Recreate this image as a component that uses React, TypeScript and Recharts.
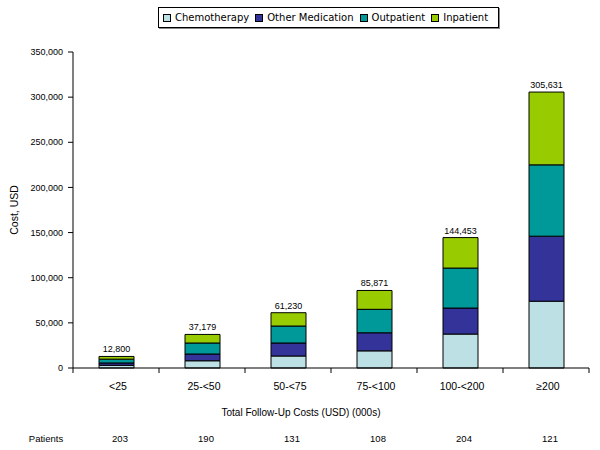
import { BarChart, Bar, XAxis, YAxis, LabelList, Legend, Label } from "recharts";

const categories = ["<25", "25-<50", "50-<75", "75-<100", "100-<200", "≥200"];
const chemotherapy = [3000, 8000, 13300, 19000, 37600, 74000];
const otherMedication = [2600, 7500, 14400, 20000, 28800, 72000];
const outpatient = [4200, 12200, 18800, 26000, 44300, 79000];
const inpatient = [3000, 9479, 14730, 20871, 33753, 80631];
const totals = [12800, 37179, 61230, 85871, 144453, 305631];
const patients = [203, 190, 131, 108, 204, 121];
const yTicks = [0, 50000, 100000, 150000, 200000, 250000, 300000, 350000];

const series = [
  { key: "chemotherapy", name: "Chemotherapy", color: "#BCE0E3" },
  { key: "otherMedication", name: "Other Medication", color: "#333399" },
  { key: "outpatient", name: "Outpatient", color: "#009999" },
  { key: "inpatient", name: "Inpatient", color: "#99CC00" },
];

const data = categories.map((c, i) => ({
  category: c,
  chemotherapy: chemotherapy[i],
  otherMedication: otherMedication[i],
  outpatient: outpatient[i],
  inpatient: inpatient[i],
  total: totals[i],
  patients: patients[i],
}));

const font = "'Liberation Sans', Arial, sans-serif";
const fmt = (v: number) => v.toLocaleString("en-US");

function CategoryTick(props: any) {
  const { x, y, payload, index, visibleTicksCount } = props;
  const half = 43;
  const last = index === visibleTicksCount - 1;
  return (
    <g>
      <line x1={x - half} x2={x - half} y1={y} y2={y + 5} stroke="#000" />
      {last && <line x1={x + half} x2={x + half} y1={y} y2={y + 5} stroke="#000" />}
      <text x={x + 2} y={y + 22} textAnchor="middle" fontSize={10.5} fontFamily={font} fill="#000">
        {payload.value}
      </text>
      <text x={x + 4} y={y + 74} textAnchor="middle" fontSize={9.5} fontFamily={font} fill="#000">
        {data[index]?.patients}
      </text>
      {index === 0 && (
        <text x={46} y={y + 74} textAnchor="middle" fontSize={9.5} fontFamily={font} fill="#000">
          Patients
        </text>
      )}
    </g>
  );
}

function LegendBox() {
  return (
    <div
      style={{
        display: "flex",
        alignItems: "center",
        height: 19,
        border: "1px solid #000",
        boxShadow: "1px 1px 0 #888",
        padding: "0 4px",
        fontFamily: "'DejaVu Sans', sans-serif",
        fontSize: 10,
        color: "#000",
        whiteSpace: "nowrap",
        background: "#fff",
      }}
    >
      {series.map((s) => (
        <span key={s.key} style={{ display: "flex", alignItems: "center", marginRight: 6 }}>
          <span
            style={{
              display: "inline-block",
              width: 6,
              height: 6,
              background: s.color,
              border: "1px solid #000",
              marginRight: 4,
            }}
          />
          {s.name}
        </span>
      ))}
    </div>
  );
}

export default function App() {
  return (
    <div style={{ position: "absolute", left: 0, top: 0, width: 600, height: 450, background: "#fff" }}>
      <BarChart width={600} height={450} data={data} margin={{ top: 52, right: 11, bottom: 0, left: 0 }}>
        <Legend
          layout="horizontal"
          verticalAlign="middle"
          align="center"
          content={() => <LegendBox />}
          wrapperStyle={{ top: 7, left: 158, width: "auto" }}
        />
        <XAxis
          dataKey="category"
          height={82}
          interval={0}
          tickLine={false}
          tickSize={0}
          tickMargin={0}
          axisLine={{ stroke: "#000" }}
          tick={<CategoryTick />}
        >
          <Label
            value="Total Follow-Up Costs (USD) (000s)"
            position="insideBottom"
            offset={34}
            dx={-30}
            fontSize={10}
            fontFamily={font}
            fill="#000"
          />
        </XAxis>
        <YAxis
          width={73}
          domain={[0, 350000]}
          ticks={yTicks}
          interval={0}
          tickFormatter={fmt}
          tickSize={5}
          tickMargin={5}
          axisLine={{ stroke: "#000" }}
          tickLine={{ stroke: "#000" }}
          tick={{ fontSize: 9, fontFamily: font, fill: "#000" }}
        >
          <Label
            value="Cost, USD"
            angle={-90}
            position="insideLeft"
            offset={14}
            style={{ textAnchor: "middle" }}
            fontSize={10.5}
            fontFamily={font}
            fill="#000"
          />
        </YAxis>
        {series.map((s, i) => (
          <Bar
            key={s.key}
            dataKey={s.key}
            name={s.name}
            stackId="cost"
            fill={s.color}
            stroke="#000"
            strokeWidth={1}
            barSize={35}
            isAnimationActive={false}
          >
            {i === series.length - 1 && (
              <LabelList
                dataKey="total"
                position="top"
                offset={4}
                formatter={(v: any) => fmt(Number(v))}
                fontSize={9}
                fontFamily={font}
                fill="#000"
              />
            )}
          </Bar>
        ))}
      </BarChart>
    </div>
  );
}
